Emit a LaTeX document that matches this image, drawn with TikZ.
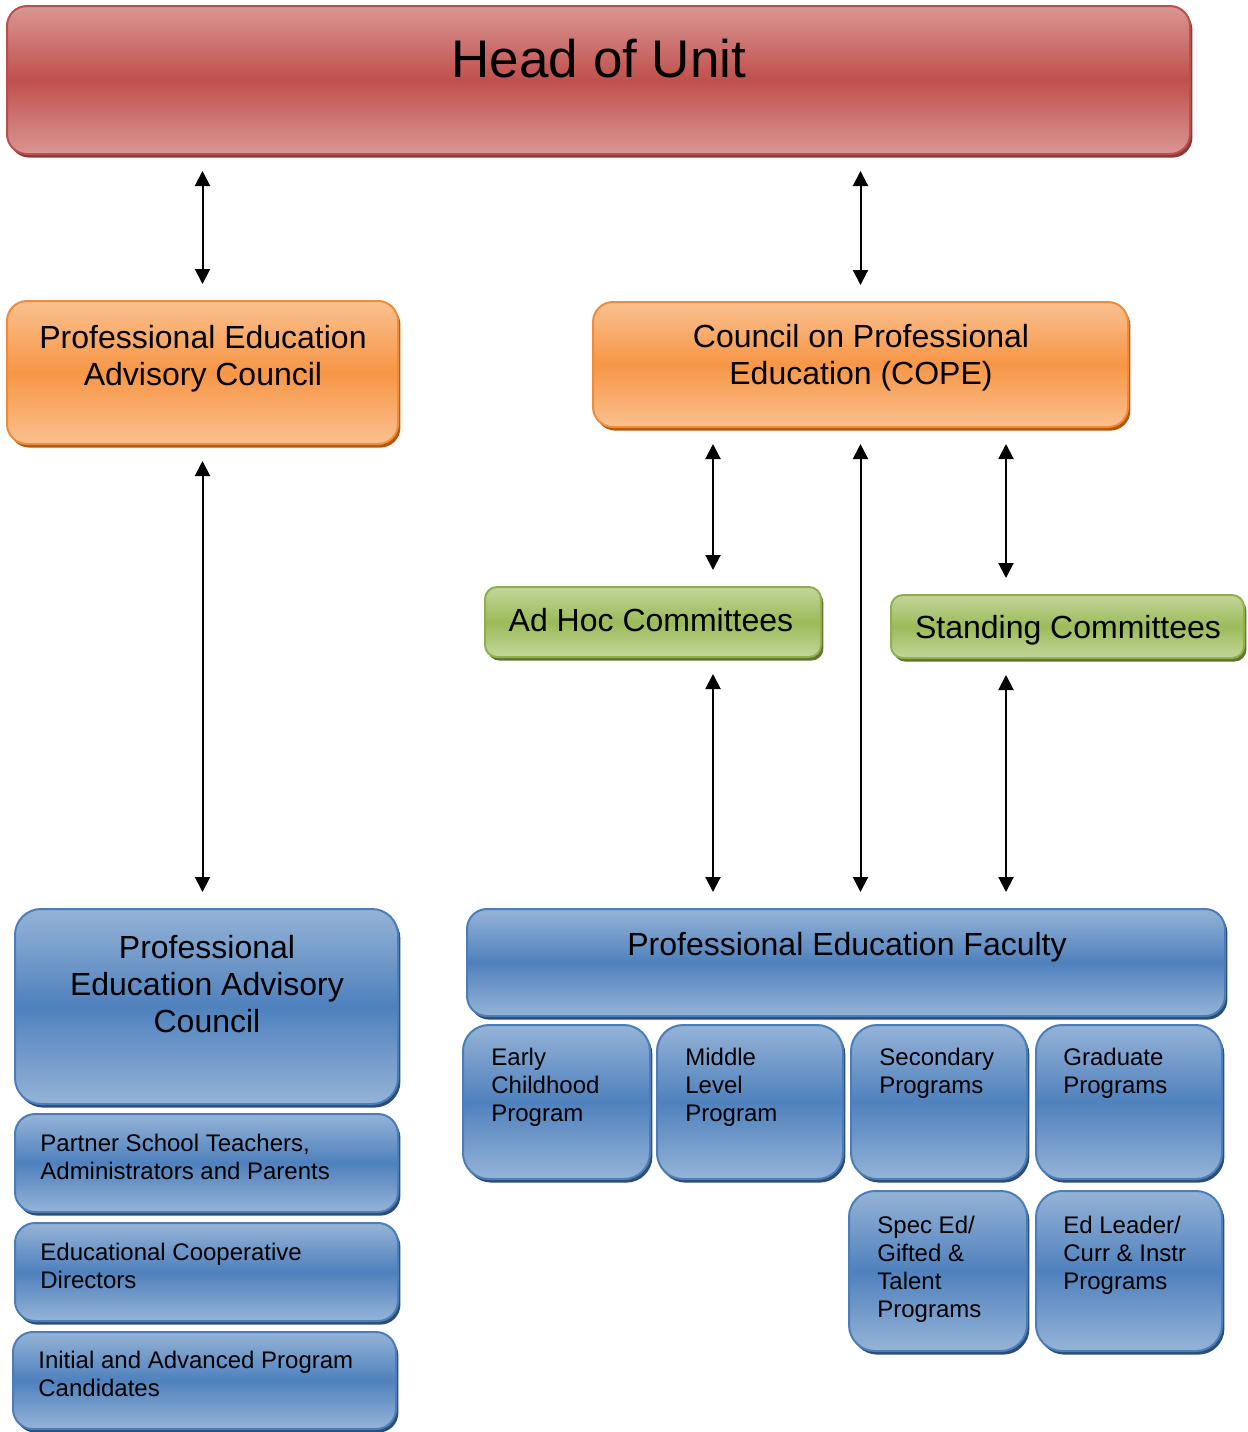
\documentclass[tikz,border=0pt]{standalone}
\usepackage{fontspec}
\setmainfont{Liberation Sans}
\usetikzlibrary{arrows.meta,fit,shadows}
\definecolor{headlt}{HTML}{D99694}
\definecolor{headdk}{HTML}{C0504D}
\definecolor{headbd}{HTML}{B8504D}
\definecolor{headshd}{HTML}{8C3836}
\definecolor{orlt}{HTML}{FAC08F}
\definecolor{ordk}{HTML}{F79646}
\definecolor{orbd}{HTML}{EE8C3E}
\definecolor{orshd}{HTML}{B65708}
\definecolor{grlt}{HTML}{C3D69B}
\definecolor{grdk}{HTML}{9BBB59}
\definecolor{grbd}{HTML}{8FB04F}
\definecolor{grshd}{HTML}{5F7530}
\definecolor{bllt}{HTML}{95B3D7}
\definecolor{bldk}{HTML}{4F81BD}
\definecolor{blbd}{HTML}{4A7EBB}
\definecolor{blshd}{HTML}{2C4D75}
\tikzset{
  box/.style={line width=1pt, inner sep=0pt, rounded corners=10pt},
  shd/.style n args={4}{draw=#3, top color=#1, bottom color=#1, middle color=#2,
    drop shadow={fill=#4, opacity=1, shadow xshift=1.2pt, shadow yshift=-1.8pt}},
  headbox/.style={box, shd={headlt}{headdk}{headbd}{headshd}},
  orbox/.style={box, shd={orlt}{ordk}{orbd}{orshd}},
  grbox/.style={box, rounded corners=6pt, shd={grlt}{grdk}{grbd}{grshd}},
  blbox/.style={box, shd={bllt}{bldk}{blbd}{blshd}},
  progbox/.style={blbox, rounded corners=13pt},
  bigtxt/.style={font=\fontsize{16}{18.5}\selectfont, inner sep=0pt, align=center, anchor=base},
  smalltxt/.style={font=\fontsize{12}{14}\selectfont, inner sep=0pt, align=left, anchor=base west},
  link/.style={{Triangle[length=7.5pt,width=7.5pt]}-{Triangle[length=7.5pt,width=7.5pt]},
    line width=1pt, shorten <=8pt, shorten >=8pt}
}
\begin{document}
\begin{tikzpicture}[x=0.5pt, y=-0.5pt]
\useasboundingbox (0,0) rectangle (1248,1432);
\node[headbox, fit={(7,6) (1190,154)}] (head) {};
\node[orbox, fit={(7,301) (398,444)}] (peac) {};
\node[orbox, fit={(593,302) (1128,427)}] (cope) {};
\node[grbox, fit={(485,587) (821,657)}] (adhoc) {};
\node[grbox, fit={(891,595) (1244,658)}] (stand) {};
\node[blbox, rounded corners=13pt, fit={(15,909) (398,1104)}] (advb) {};
\node[blbox, fit={(15,1114) (398,1212)}] (partner) {};
\node[blbox, fit={(15,1223) (398,1321)}] (coop) {};
\node[blbox, fit={(13,1332) (396,1429)}] (cand) {};
\node[blbox, fit={(467,909) (1225,1016)}] (pef) {};
\node[progbox, fit={(463,1025) (650,1179)}] (early) {};
\node[progbox, fit={(657,1025) (843,1179)}] (middle) {};
\node[progbox, fit={(851,1025) (1027,1179)}] (second) {};
\node[progbox, fit={(1036,1025) (1222,1179)}] (grad) {};
\node[progbox, fit={(849,1191) (1027,1351)}] (sped) {};
\node[progbox, fit={(1036,1191) (1222,1351)}] (edlead) {};

\node[font=\fontsize{26.5}{30}\selectfont, inner sep=0pt, anchor=base] (head-t) at (599,77) {Head of Unit};
\node[bigtxt] (peac-t) at (203,385) {Professional Education\\Advisory Council};
\node[bigtxt] (cope-t) at (861,384) {Council on Professional\\Education (COPE)};
\node[bigtxt] (adhoc-t) at (651,631) {Ad Hoc Committees};
\node[bigtxt] (stand-t) at (1068,638) {Standing Committees};
\node[bigtxt] (advb-t) at (207,1032) {Professional\\Education Advisory\\Council};
\node[bigtxt] (pef-t) at (847,955) {Professional Education Faculty};
\node[smalltxt] (partner-t) at (40,1179) {Partner School Teachers,\\Administrators and Parents};
\node[smalltxt] (coop-t) at (40,1288) {Educational Cooperative\\Directors};
\node[smalltxt] (cand-t) at (38,1396) {Initial and Advanced Program\\Candidates};
\node[smalltxt] (early-t) at (491,1121) {Early\\Childhood\\Program};
\node[smalltxt] (middle-t) at (685,1121) {Middle\\Level\\Program};
\node[smalltxt] (second-t) at (879,1093) {Secondary\\Programs};
\node[smalltxt] (grad-t) at (1063,1093) {Graduate\\Programs};
\node[smalltxt] (sped-t) at (877,1317) {Spec Ed/\\Gifted \&\\Talent\\Programs};
\node[smalltxt] (edlead-t) at (1063,1289) {Ed Leader/\\Curr \& Instr\\Programs};

\coordinate (cA) at (713,0);
\coordinate (cC) at (1006,0);
\draw[link] (head.south -| peac) -- (peac.north);
\draw[link] (head.south -| cope) -- (cope.north);
\draw[link] (peac.south) -- (advb.north -| peac);
\draw[link] (cope.south -| cA) -- (adhoc.north -| cA);
\draw[link] (cope.south) -- (pef.north -| cope);
\draw[link] (cope.south -| cC) -- (stand.north -| cC);
\draw[link] (adhoc.south -| cA) -- (pef.north -| cA);
\draw[link] (stand.south -| cC) -- (pef.north -| cC);
\end{tikzpicture}
\end{document}
